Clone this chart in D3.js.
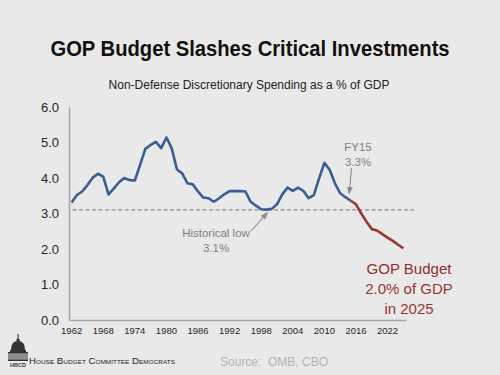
<!DOCTYPE html>
<html>
<head>
<meta charset="utf-8">
<script src="https://cdn.jsdelivr.net/npm/d3@7"></script>
<style>
  html, body { margin: 0; padding: 0; background: #e9e9e9; }
  svg { display: block; font-family: "Liberation Sans", Arial, sans-serif; }
</style>
</head>
<body>
<div id="chart"></div>
<script>
// data (NDD spending, % of GDP)
const years = [1962, 1963, 1964, 1965, 1966, 1967, 1968, 1969, 1970, 1971,
  1972, 1973, 1974, 1975, 1976, 1977, 1978, 1979, 1980, 1981,
  1982, 1983, 1984, 1985, 1986, 1987, 1988, 1989, 1990, 1991,
  1992, 1993, 1994, 1995, 1996, 1997, 1998, 1999, 2000, 2001,
  2002, 2003, 2004, 2005, 2006, 2007, 2008, 2009, 2010, 2011,
  2012, 2013, 2014, 2015, 2016, 2017, 2018, 2019, 2020, 2021,
  2022, 2023, 2024, 2025];

const historicalYears = years.slice(0, 54); // 1962 - 2015
const historicalValues = [3.31, 3.52, 3.62, 3.80, 4.01, 4.12, 4.04, 3.54, 3.70, 3.88,
  4.00, 3.94, 3.93, 4.37, 4.82, 4.93, 5.02, 4.84, 5.14, 4.84,
  4.24, 4.13, 3.85, 3.82, 3.62, 3.45, 3.43, 3.33, 3.43, 3.54,
  3.63, 3.63, 3.63, 3.62, 3.33, 3.22, 3.12, 3.11, 3.13, 3.26,
  3.54, 3.73, 3.64, 3.73, 3.64, 3.43, 3.52, 3.99, 4.43, 4.23,
  3.85, 3.57, 3.46, 3.36];

const gopYears = years.slice(53); // 2015 - 2025
const gopValues = [3.36, 3.26, 3.00, 2.77, 2.56, 2.52, 2.42, 2.32, 2.23, 2.12, 2.02];

const historicalLow = 3.1;
const xTickYears = [1962, 1968, 1974, 1980, 1986, 1992, 1998, 2004, 2010, 2016, 2022];
const yTicks = [0, 1, 2, 3, 4, 5, 6];

/** CONSTANTS */
const width = 500;
const height = 375;
const margins = { top: 107, bottom: 55, left: 69, right: 94 };
const blue = "#3a5d93";
const red = "#973634";
const gray = "#8c8c8c";

/** SCALES */
const xScale = d3.scaleBand()
  .domain(years)
  .range([margins.left, width - margins.right]);
const xPos = yr => xScale(yr) + xScale.bandwidth() / 2;

const yScale = d3.scaleLinear()
  .domain([0, 6])
  .range([height - margins.bottom, margins.top]);

const svg = d3.select("#chart")
  .append("svg")
  .attr("width", width)
  .attr("height", height);

svg.append("rect")
  .attr("width", width)
  .attr("height", height)
  .attr("fill", "#e9e9e9");

// arrow marker
svg.append("defs").append("marker")
  .attr("id", "arrow")
  .attr("viewBox", "0 0 10 10")
  .attr("refX", 9).attr("refY", 5)
  .attr("markerWidth", 7).attr("markerHeight", 7)
  .attr("orient", "auto")
  .append("path")
  .attr("d", "M0,1 L10,5 L0,9 Z")
  .attr("fill", gray);

// titles (slightly stretched vertically to mimic the condensed face)
svg.append("text")
  .attr("transform", "translate(250,56) scale(1,1.13)")
  .attr("text-anchor", "middle")
  .attr("font-weight", "bold")
  .attr("font-size", 20.2)
  .attr("fill", "#111")
  .text("GOP Budget Slashes Critical Investments");

svg.append("text")
  .attr("x", 249).attr("y", 89)
  .attr("text-anchor", "middle")
  .attr("font-size", 12)
  .attr("fill", "#222")
  .text("Non-Defense Discretionary Spending as a % of GDP");

/** AXES */
const yAxis = svg.append("g")
  .attr("transform", `translate(${margins.left},0)`)
  .call(d3.axisLeft(yScale).tickValues(yTicks).tickFormat(d3.format(".1f")).tickSize(0).tickPadding(10));
yAxis.select(".domain").attr("stroke", "#a6a6a6").attr("stroke-width", 1.5);
yAxis.selectAll("text").attr("font-size", 13).attr("fill", "#262626")
  .attr("font-family", "'Liberation Sans', Arial, sans-serif");

const xAxis = svg.append("g")
  .attr("transform", `translate(0,${height - margins.bottom})`)
  .call(d3.axisBottom(xScale).tickValues(xTickYears).tickSize(0).tickPadding(7));
xAxis.select(".domain").attr("stroke", "#a6a6a6").attr("stroke-width", 1.5);
xAxis.selectAll("text").attr("font-size", 9.5).attr("fill", "#262626")
  .attr("font-family", "'Liberation Sans', Arial, sans-serif");

// historical low dashed line
svg.append("line")
  .attr("x1", xPos(1962) + 1).attr("x2", 414)
  .attr("y1", yScale(historicalLow)).attr("y2", yScale(historicalLow))
  .attr("stroke", "#8a8a8a")
  .attr("stroke-width", 1.2)
  .attr("stroke-dasharray", "4,2.5");

/** LINES */
const line = d3.line()
  .x(d => xPos(d[0]))
  .y(d => yScale(d[1]));

svg.append("path")
  .datum(historicalYears.map((y, i) => [y, historicalValues[i]]))
  .attr("d", line)
  .attr("fill", "none")
  .attr("stroke", blue)
  .attr("stroke-width", 2.6)
  .attr("stroke-linejoin", "round");

svg.append("path")
  .datum(gopYears.map((y, i) => [y, gopValues[i]]))
  .attr("d", line)
  .attr("fill", "none")
  .attr("stroke", red)
  .attr("stroke-width", 2.6)
  .attr("stroke-linejoin", "round");

/** ANNOTATIONS */
const fy15 = svg.append("g").attr("fill", "#7f7f7f").attr("font-size", 11.5).attr("text-anchor", "middle");
fy15.append("text").attr("x", 358).attr("y", 151).text("FY15");
fy15.append("text").attr("x", 358).attr("y", 166).text("3.3%");
svg.append("line")
  .attr("x1", 351.5).attr("y1", 168)
  .attr("x2", xPos(2015) - 1.5).attr("y2", yScale(3.36) - 7)
  .attr("stroke", gray).attr("stroke-width", 1.1)
  .attr("marker-end", "url(#arrow)");

const low = svg.append("g").attr("fill", "#7f7f7f").attr("font-size", 11.5).attr("text-anchor", "middle");
low.append("text").attr("x", 216).attr("y", 237).text("Historical low");
low.append("text").attr("x", 216).attr("y", 252).text("3.1%");
svg.append("line")
  .attr("x1", 251).attr("y1", 231)
  .attr("x2", xPos(1999) + 1).attr("y2", yScale(3.11) + 3)
  .attr("stroke", gray).attr("stroke-width", 1.1)
  .attr("marker-end", "url(#arrow)");

const gop = svg.append("g").attr("fill", red).attr("font-size", 15).attr("text-anchor", "middle");
gop.append("text").attr("x", 409).attr("y", 274).attr("fill", "#8e2f2f").text("GOP Budget");
gop.append("text").attr("x", 409).attr("y", 294).text("2.0% of GDP");
gop.append("text").attr("x", 409).attr("y", 314).text("in 2025");

/** FOOTER */
svg.append("text")
  .attr("x", 220).attr("y", 366)
  .attr("font-size", 12)
  .attr("fill", "#b3b3b3")
  .attr("xml:space", "preserve")
  .text("Source:  OMB, CBO");

// capitol dome logo
const logo = svg.append("g").attr("fill", "#333").attr("stroke", "none");
logo.append("rect").attr("x", 17.5).attr("y", 334).attr("width", 1.2).attr("height", 6);
logo.append("rect").attr("x", 16.5).attr("y", 339).attr("width", 3.2).attr("height", 3);
logo.append("path").attr("d", "M11,350 Q11,341 18,341 Q25,341 25,350 Z");
logo.append("rect").attr("x", 10).attr("y", 350).attr("width", 16).attr("height", 2);
logo.append("rect").attr("x", 8).attr("y", 352).attr("width", 20).attr("height", 1.5);
const cols = [9, 11, 13, 15, 17, 19, 21, 23, 25, 27];
logo.selectAll("rect.col").data(cols).join("rect")
  .attr("class", "col")
  .attr("x", d => d - 0.5).attr("y", 353.5).attr("width", 1).attr("height", 6);
logo.append("rect").attr("x", 8).attr("y", 359.5).attr("width", 20).attr("height", 1.5);
logo.append("text").attr("x", 18).attr("y", 367).attr("text-anchor", "middle")
  .attr("font-size", 5.5).attr("font-weight", "bold").text("HBCD");

svg.append("text")
  .attr("x", 29).attr("y", 364)
  .attr("font-size", 9)
  .attr("font-variant", "small-caps")
  .attr("fill", "#222")
  .attr("textLength", 146)
  .attr("lengthAdjust", "spacingAndGlyphs")
  .attr("font-family", "'Liberation Sans', Arial, sans-serif")
  .text("House Budget Committee Democrats");
</script>
</body>
</html>
